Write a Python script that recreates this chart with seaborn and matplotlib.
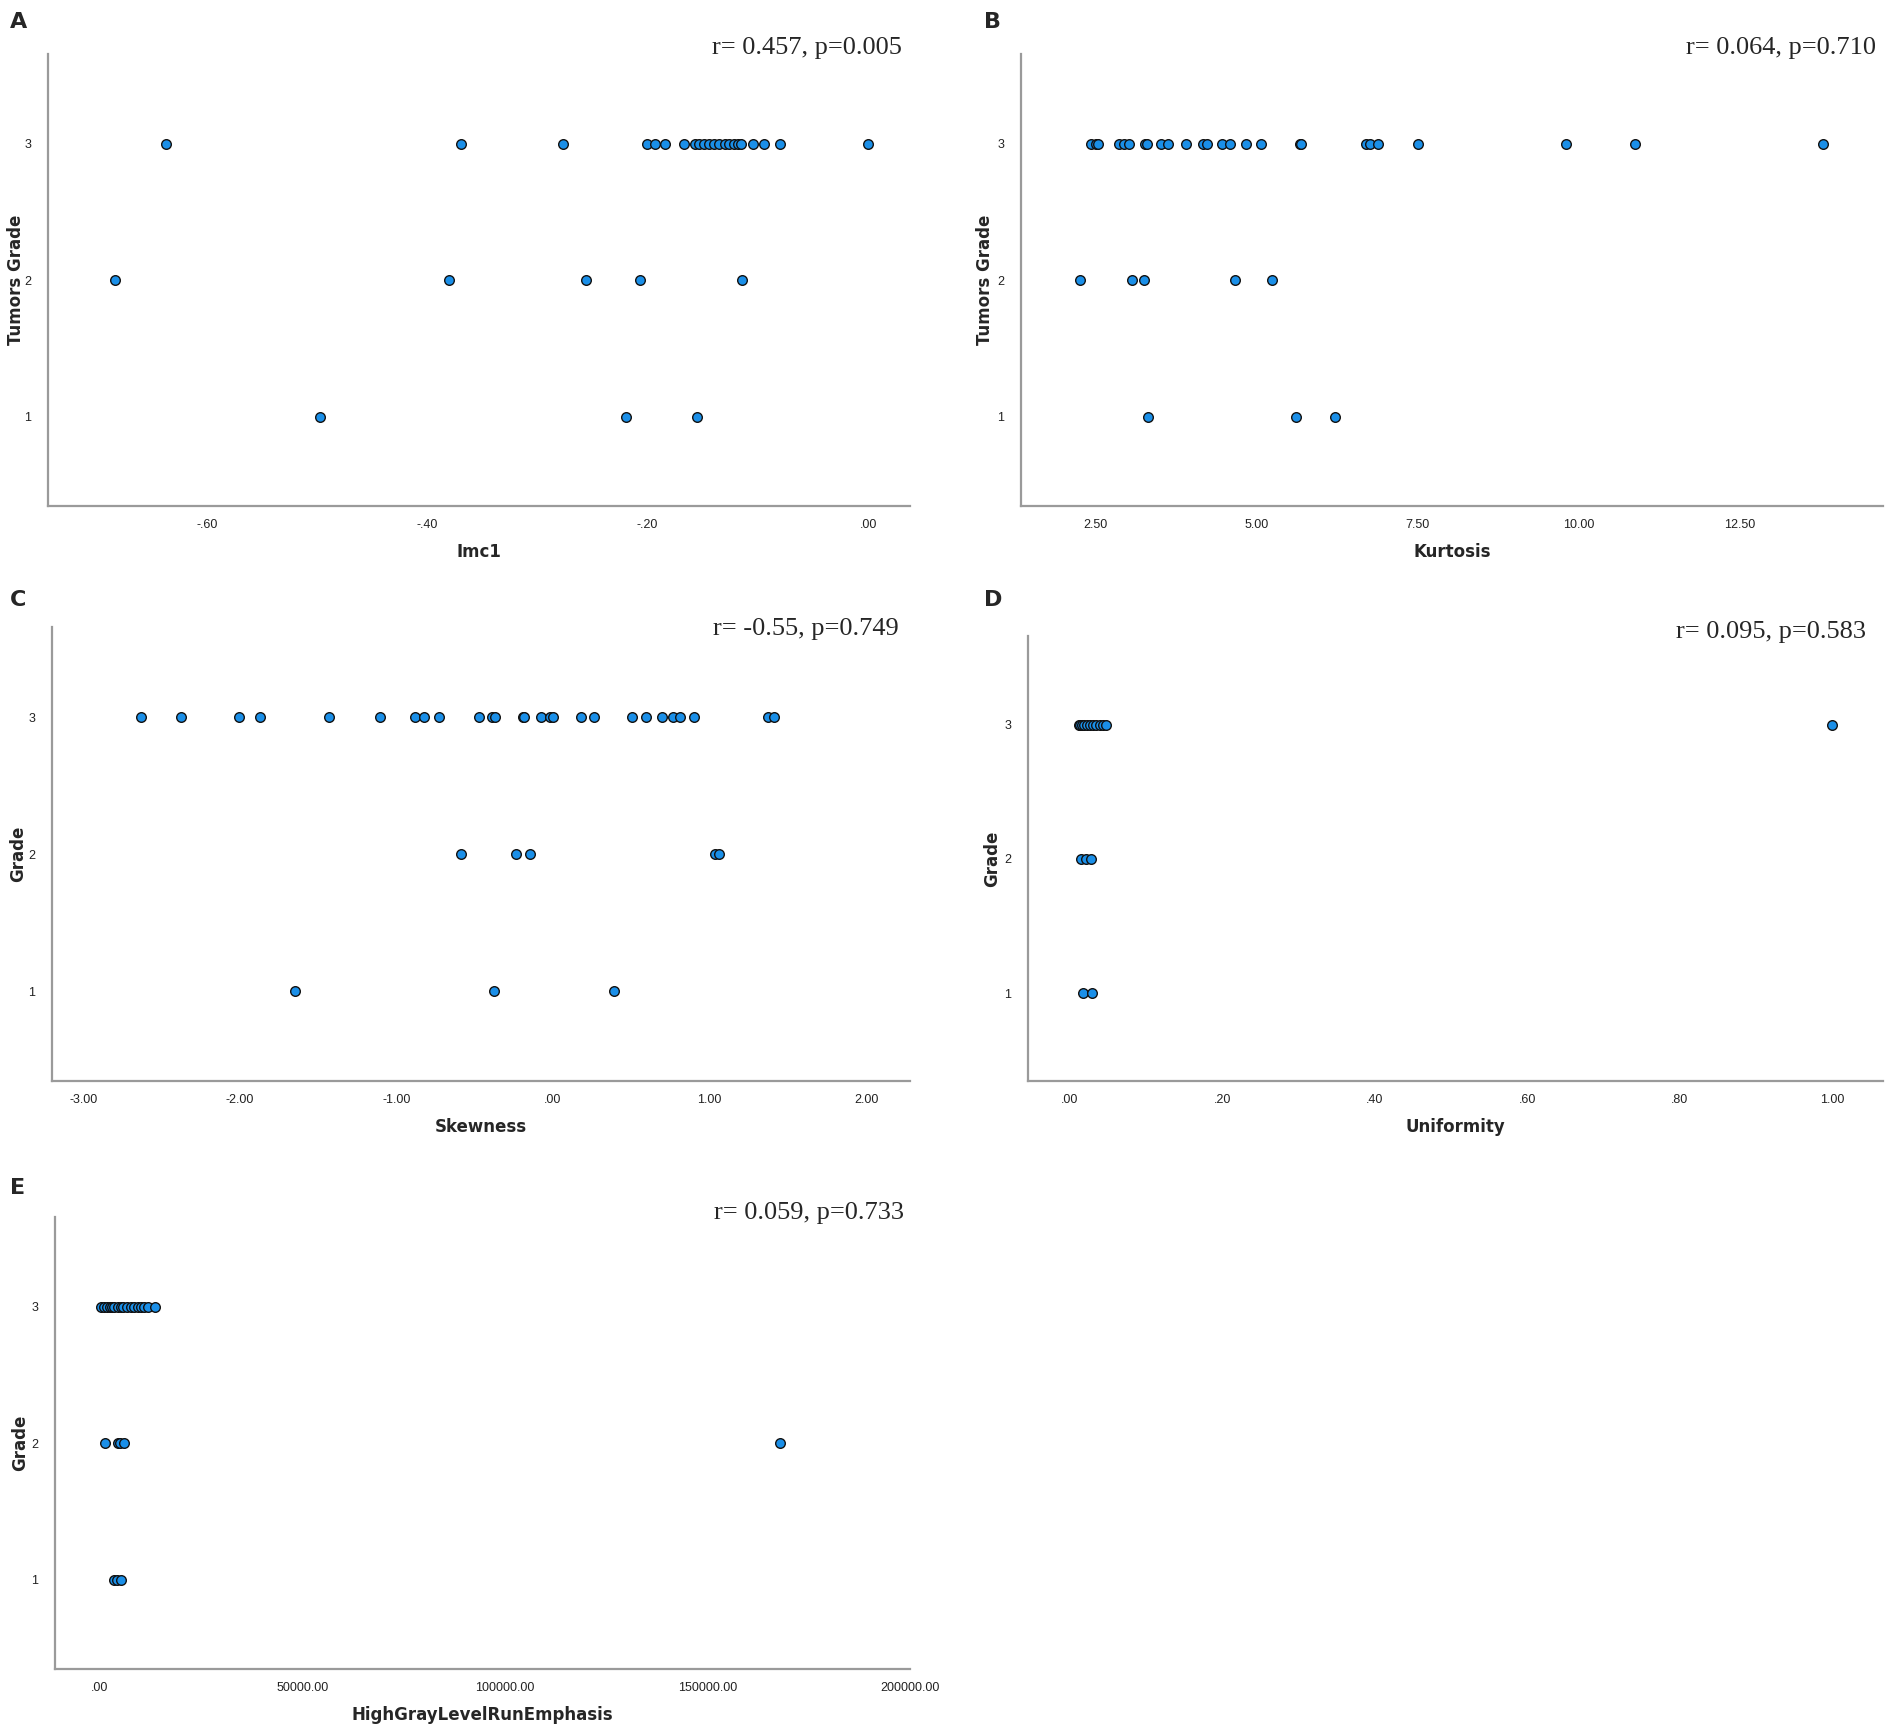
import matplotlib
matplotlib.use("Agg")
import matplotlib.pyplot as plt
import seaborn as sns
import pandas as pd
from matplotlib.ticker import FuncFormatter

# ---- data ----
imc1_g3 = [-0.637, -0.369, -0.277, -0.201, -0.193, -0.184, -0.167, -0.157, -0.153, -0.149, -0.144,
           -0.140, -0.135, -0.130, -0.126, -0.122, -0.118, -0.115, -0.104, -0.094, -0.080, 0.0]
imc1_g2 = [-0.683, -0.380, -0.256, -0.207, -0.114]
imc1_g1 = [-0.497, -0.220, -0.155]

kurt_g3 = [2.43, 2.50, 2.53, 2.86, 2.94, 3.01, 3.27, 3.30, 3.52, 3.63, 3.90, 4.17, 4.23, 4.47,
           4.58, 4.84, 5.07, 5.67, 5.69, 6.70, 6.76, 6.89, 7.50, 9.81, 10.87, 13.80]
kurt_g2 = [2.25, 3.06, 3.25, 4.67, 5.24]
kurt_g1 = [3.31, 5.61, 6.22]

skew_g3 = [-2.634, -2.379, -2.008, -1.869, -1.432, -1.107, -0.879, -0.825, -0.729, -0.470, -0.392,
           -0.369, -0.191, -0.184, -0.075, -0.021, -0.002, 0.180, 0.261, 0.504, 0.597, 0.694,
           0.767, 0.814, 0.899, 1.374, 1.413]
skew_g2 = [-0.589, -0.234, -0.149, 1.034, 1.061]
skew_g1 = [-1.648, -0.377, 0.388]

unif_g3 = [0.012, 0.0135, 0.016, 0.019, 0.022, 0.026, 0.030, 0.034, 0.039, 0.043, 0.047, 1.0]
unif_g2 = [0.015, 0.0205, 0.028]
unif_g1 = [0.017, 0.029]

hglre_g3 = [400, 990, 1810, 2470, 3045, 3620, 4440, 5270, 5760, 6750, 7740, 8560, 9380,
            10210, 11030, 11850, 13580]
hglre_g2 = [1400, 4440, 5100, 6090, 168000]
hglre_g1 = [3620, 4280, 5270]

panels = [
    ("A", "Imc1", "Tumors Grade", "r= 0.457, p=0.005", imc1_g1, imc1_g2, imc1_g3),
    ("B", "Kurtosis", "Tumors Grade", "r= 0.064, p=0.710", kurt_g1, kurt_g2, kurt_g3),
    ("C", "Skewness", "Grade", "r= -0.55, p=0.749", skew_g1, skew_g2, skew_g3),
    ("D", "Uniformity", "Grade", "r= 0.095, p=0.583", unif_g1, unif_g2, unif_g3),
    ("E", "HighGrayLevelRunEmphasis", "Grade", "r= 0.059, p=0.733", hglre_g1, hglre_g2, hglre_g3),
]

x_ticks = {
    "A": [-0.6, -0.4, -0.2, 0.0],
    "B": [2.5, 5.0, 7.5, 10.0, 12.5],
    "C": [-3, -2, -1, 0, 1, 2],
    "D": [0, 0.2, 0.4, 0.6, 0.8, 1.0],
    "E": [0, 50000, 100000, 150000, 200000],
}
x_lims = {
    "A": (-0.744, 0.038),
    "B": (1.34, 14.73),
    "C": (-3.2, 2.28),
    "D": (-0.055, 1.067),
    "E": (-11000, 200000),
}

# axes boxes in figure pixels: left, top, right, bottom (figure 1890 x 1726)
W, H = 1890, 1726
boxes = {
    "A": (48, 54, 910, 506),
    "B": (1021, 54, 1883, 506),
    "C": (52, 627, 910, 1081),
    "D": (1028, 636, 1883, 1081),
    "E": (55, 1217, 910, 1669),
}
letter_pos = {"A": (10, 22), "B": (984, 22), "C": (10, 600), "D": (984, 600), "E": (10, 1188)}
stat_pos = {"A": (902, 48), "B": (1876, 48), "C": (899, 629), "D": (1866, 632), "E": (904, 1213)}
ylabel_x = {"A": 16, "B": 985, "C": 18, "D": 992, "E": 20}   # figure px, label centre
xlabel_gap = 46                                              # px below the x axis


def spss_fmt(v, _pos=None):
    s = f"{v:.2f}"
    if s.startswith("0."):
        s = s[1:]
    elif s.startswith("-0."):
        s = "-" + s[2:]
    return s


sns.set_style("white")
plt.rcParams['font.family'] = ['DejaVu Sans']

fig = plt.figure(figsize=(W / 100, H / 100), dpi=100)

for letter, xlabel, ylabel, stat, g1, g2, g3 in panels:
    l, t, r, b = boxes[letter]
    ax = fig.add_axes([l / W, 1 - b / H, (r - l) / W, (b - t) / H])
    df = pd.DataFrame({
        "x": list(g1) + list(g2) + list(g3),
        "grade": [1] * len(g1) + [2] * len(g2) + [3] * len(g3),
    })
    sns.scatterplot(data=df, x="x", y="grade", ax=ax, s=48, color="#1a8fe8",
                    edgecolor="#111111", linewidth=1.0, zorder=3)
    ax.set_xlim(*x_lims[letter])
    ax.set_ylim(0.345, 3.66)
    ax.set_xticks(x_ticks[letter])
    ax.xaxis.set_major_formatter(FuncFormatter(spss_fmt))
    ax.set_yticks([1, 2, 3])
    ax.set_yticklabels(["1", "2", "3"])
    ax.tick_params(axis="x", length=0, labelsize=9, pad=9, colors="#222222")
    ax.tick_params(axis="y", length=0, labelsize=9, pad=12, colors="#222222")
    for lab in ax.get_xticklabels() + ax.get_yticklabels():
        lab.set_family("Liberation Sans")
    for side in ["top", "right"]:
        ax.spines[side].set_visible(False)
    for side in ["left", "bottom"]:
        ax.spines[side].set_color("#9a9a9a")
        ax.spines[side].set_linewidth(1.6)
    ax.set_xlabel(xlabel, fontsize=12, fontweight="bold")
    ax.set_ylabel(ylabel, fontsize=12, fontweight="bold")
    ax.xaxis.set_label_coords(0.5, -xlabel_gap / (b - t))
    ax.yaxis.set_label_coords((ylabel_x[letter] - l) / (r - l), 0.5)
    ax.xaxis.label.set_va("center")
    ax.yaxis.label.set_va("center")

    fig.text(letter_pos[letter][0] / W, 1 - letter_pos[letter][1] / H, letter,
             fontsize=16, fontweight="bold", va="center", ha="left")
    fig.text(stat_pos[letter][0] / W, 1 - stat_pos[letter][1] / H, stat,
             fontsize=19, family="Liberation Serif", va="center", ha="right")

fig.savefig("out.png", dpi=100)
